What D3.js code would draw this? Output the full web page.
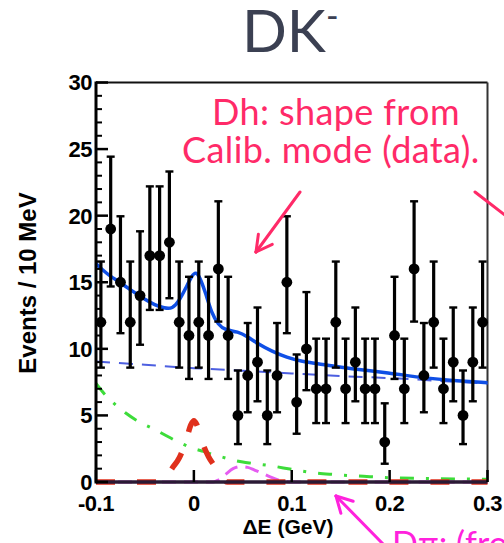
<!DOCTYPE html>
<html>
<head>
<meta charset="utf-8">
<script src="https://cdn.jsdelivr.net/npm/d3@7"></script>
<style>
  html, body { margin: 0; padding: 0; background: #fff; }
  svg { display: block; }
</style>
</head>
<body>
<svg id="chart" width="504" height="543"></svg>
<script>
// ---- Data: DK- candidates, 10 MeV bins of ΔE ----
const binCenters = d3.range(40).map(i => -0.095 + i * 0.01);
const counts = [12, 19, 15, 12, 14, 17, 17, 18, 12, 11,
                12, 11, 16, 11, 5, 8, 9, 5, 8, 15,
                6, 10, 7, 7, 12, 7, 9, 7, 7, 3,
                11, 7, 16, 8, 12, 7, 9, 5, 9, 12];

// Fit components sampled along ΔE: [ΔE (GeV), events / 10 MeV]
const totalFit = [[-0.1,16.4],[-0.09,15.7],[-0.08,15.2],[-0.07,14.7],[-0.06,14.2],[-0.05,13.7],
  [-0.04,13.3],[-0.03,13.05],[-0.022,13.0],[-0.015,13.6],[-0.008,14.6],[-0.002,15.5],[0.002,15.8],
  [0.006,15.4],[0.012,14.2],[0.018,12.7],[0.025,11.8],[0.032,11.4],[0.045,11.3],[0.055,10.9],
  [0.065,10.4],[0.08,9.8],[0.095,9.35],[0.11,9.05],[0.13,8.85],[0.16,8.5],[0.2,8.2],[0.23,7.85],
  [0.26,7.65],[0.3,7.45]];
const combinatorial = [[-0.1,9.05],[-0.05,8.8],[0,8.55],[0.05,8.35],[0.1,8.15],[0.15,7.95],
  [0.2,7.8],[0.25,7.6],[0.3,7.4]];
const bbBackground = [[-0.1,7.4],[-0.09,6.5],[-0.08,5.8],[-0.07,5.2],[-0.06,4.7],[-0.05,4.3],
  [-0.04,3.95],[-0.03,3.55],[-0.02,3.15],[-0.01,2.8],[0,2.5],[0.01,2.3],[0.02,2.05],[0.03,1.85],
  [0.04,1.65],[0.05,1.5],[0.06,1.4],[0.08,1.2],[0.1,0.95],[0.12,0.72],[0.14,0.58],[0.16,0.48],
  [0.18,0.4],[0.2,0.32],[0.25,0.25],[0.3,0.2]];
const peakingDh = [[-0.1,0],[-0.034,0],[-0.028,0.35],[-0.022,1.05],[-0.015,1.8],[-0.008,3.1],
  [-0.003,4.3],[0,4.6],[0.003,4.3],[0.008,3.1],[0.015,1.9],[0.022,1.1],[0.028,0.4],[0.034,0],[0.3,0]];
const dpiComponent = [[-0.1,0],[0.02,0],[0.025,0.15],[0.032,0.55],[0.04,1.0],[0.048,1.15],
  [0.055,1.1],[0.062,0.9],[0.07,0.65],[0.078,0.38],[0.086,0.15],[0.095,0.03],[0.1,0],[0.3,0]];

const xTicks = [-0.1, 0, 0.1, 0.2, 0.3];
const xTickLabels = ["-0.1", "0", "0.1", "0.2", "0.3"];
const yTicks = [0, 5, 10, 15, 20, 25, 30];
const yMinorTicks = d3.range(0, 31, 1);

// Poisson 68% interval (Garwood, Wilson–Hilferty form) for the error bars
function poissonInterval(n) {
  if (n === 0) return [0, 1.84];
  const lo = n * Math.pow(1 - 1 / (9 * n) - 1 / (3 * Math.sqrt(n)), 3);
  const m = n + 1;
  const hi = m * Math.pow(1 - 1 / (9 * m) + 1 / (3 * Math.sqrt(m)), 3);
  return [lo, hi];
}

// ---- Layout ----
const svg = d3.select("#chart");
svg.append("rect").attr("width", 504).attr("height", 543).attr("fill", "#fff");

const x = d3.scaleLinear().domain([-0.1, 0.3]).range([96, 487.5]);
const y = d3.scaleLinear().domain([0, 30]).range([482, 82.5]);
const axisFont = "'Liberation Sans', Arial, Helvetica, sans-serif";

// Frame
svg.append("line").attr("x1", x(-0.1)).attr("x2", x(0.3)).attr("y1", y(30)).attr("y2", y(30))
  .attr("stroke", "#111").attr("stroke-width", 2);
svg.append("line").attr("x1", x(0.3)).attr("x2", x(0.3)).attr("y1", y(30)).attr("y2", y(0))
  .attr("stroke", "#333").attr("stroke-width", 2);

// Fit components
const line = d3.line().x(d => x(d[0])).y(d => y(d[1])).curve(d3.curveMonotoneX);
const plot = svg.append("g");
plot.append("path").datum(combinatorial).attr("d", line).attr("fill", "none")
  .attr("stroke", "#4d5fe0").attr("stroke-width", 2).attr("stroke-dasharray", "14,9");
plot.append("path").datum(bbBackground).attr("d", line).attr("fill", "none")
  .attr("stroke", "#3ddc3a").attr("stroke-width", 3).attr("stroke-dasharray", "14,12,3,12");

// Axis lines (x axis under the dashed zero-level curves)
svg.append("line").attr("x1", x(-0.1)).attr("x2", x(0.3)).attr("y1", y(0)).attr("y2", y(0))
  .attr("stroke", "#2a1a35").attr("stroke-width", 3.5);
svg.append("line").attr("x1", x(-0.1)).attr("x2", x(-0.1)).attr("y1", y(30) - 1).attr("y2", y(0) + 1.5)
  .attr("stroke", "#000").attr("stroke-width", 3);

plot.append("path").datum(dpiComponent).attr("d", line).attr("fill", "none")
  .attr("stroke", "#e040ee").attr("stroke-width", 3).attr("stroke-dasharray", "14,8").attr("opacity", 0.85);
plot.append("path").datum(peakingDh).attr("d", line).attr("fill", "none")
  .attr("stroke", "#e0301c").attr("stroke-width", 5.5).attr("stroke-dasharray", "19,22");
plot.append("path").datum(totalFit).attr("d", line.curve(d3.curveBasis)).attr("fill", "none")
  .attr("stroke", "#0f4fe6").attr("stroke-width", 3.5);

// Y ticks
const yAxis = svg.append("g");
yAxis.selectAll("line.minor").data(yMinorTicks.filter(v => v % 5 !== 0)).join("line")
  .attr("x1", x(-0.1)).attr("x2", x(-0.1) + 6).attr("y1", d => y(d)).attr("y2", d => y(d))
  .attr("stroke", "#000").attr("stroke-width", 2);
yAxis.selectAll("line.major").data(yTicks).join("line")
  .attr("x1", x(-0.1)).attr("x2", x(-0.1) + 12).attr("y1", d => y(d)).attr("y2", d => y(d))
  .attr("stroke", "#000").attr("stroke-width", 2.5);
yAxis.selectAll("text").data(yTicks).join("text")
  .attr("x", 92).attr("y", d => y(d)).attr("dy", "0.36em")
  .attr("text-anchor", "end").attr("font-family", axisFont).attr("font-weight", "bold")
  .attr("font-size", 22).attr("letter-spacing", -0.5).attr("fill", "#000").text(d => d);

// X ticks
const xAxis = svg.append("g");
xAxis.selectAll("line").data(xTicks).join("line")
  .attr("x1", d => x(d)).attr("x2", d => x(d)).attr("y1", y(0)).attr("y2", y(0) - 12)
  .attr("stroke", "#000").attr("stroke-width", 2.5);
xAxis.selectAll("text").data(xTicks).join("text")
  .attr("x", d => x(d)).attr("y", 511).attr("text-anchor", "middle")
  .attr("font-family", axisFont).attr("font-weight", "bold").attr("font-size", 22)
  .attr("letter-spacing", -0.5).attr("fill", "#000").text((d, i) => xTickLabels[i]);

// Axis titles
svg.append("text").attr("x", 288).attr("y", 534).attr("text-anchor", "middle")
  .attr("font-family", axisFont).attr("font-weight", "bold").attr("font-size", 21)
  .attr("fill", "#000").text("ΔE (GeV)");
svg.append("text").attr("transform", "translate(36,283) rotate(-90)").attr("text-anchor", "middle")
  .attr("font-family", axisFont).attr("font-weight", "bold").attr("font-size", 24)
  .attr("fill", "#000").text("Events / 10 MeV");

// Data points with Poisson error bars
const pts = svg.append("g");
const data = binCenters.map((c, i) => ({ c, n: counts[i], iv: poissonInterval(counts[i]) }));
pts.selectAll("line.bar").data(data).join("line")
  .attr("x1", d => x(d.c)).attr("x2", d => x(d.c))
  .attr("y1", d => y(d.iv[0])).attr("y2", d => y(d.iv[1]))
  .attr("stroke", "#000").attr("stroke-width", 3.2);
pts.selectAll("line.capHi").data(data).join("line")
  .attr("x1", d => x(d.c) - 4).attr("x2", d => x(d.c) + 4)
  .attr("y1", d => y(d.iv[1])).attr("y2", d => y(d.iv[1]))
  .attr("stroke", "#000").attr("stroke-width", 2.4);
pts.selectAll("line.capLo").data(data).join("line")
  .attr("x1", d => x(d.c) - 4).attr("x2", d => x(d.c) + 4)
  .attr("y1", d => y(d.iv[0])).attr("y2", d => y(d.iv[0]))
  .attr("stroke", "#000").attr("stroke-width", 2.4);
pts.selectAll("circle").data(data).join("circle")
  .attr("cx", d => x(d.c)).attr("cy", d => y(d.n)).attr("r", 5.4).attr("fill", "#000");

// Title
const title = svg.append("text").attr("x", 242).attr("y", 52)
  .attr("font-family", "Lato, 'Open Sans', sans-serif").attr("font-size", 59)
  .attr("fill", "#3b4052");
title.append("tspan").text("DK");
title.append("tspan").attr("font-size", 34).attr("dy", -24).text("-");

// Annotations
const pink = "#ff2a68";
const annot = svg.append("g").attr("font-family", "Lato, 'Open Sans', sans-serif")
  .attr("font-size", 36).attr("letter-spacing", 0.4).attr("fill", pink);
annot.append("text").attr("x", 212).attr("y", 125).text("Dh: shape from");
annot.append("text").attr("x", 182).attr("y", 163).text("Calib. mode (data).");

function arrow(g, x1, y1, x2, y2, color, head) {
  g.append("line").attr("x1", x1).attr("y1", y1).attr("x2", x2).attr("y2", y2)
    .attr("stroke", color).attr("stroke-width", 3).attr("stroke-linecap", "round");
  if (head) {
    const a = Math.atan2(y2 - y1, x2 - x1), L = 18, s = 0.5;
    [a + Math.PI - s, a + Math.PI + s].forEach(b => {
      g.append("line").attr("x1", x2).attr("y1", y2)
        .attr("x2", x2 + L * Math.cos(b)).attr("y2", y2 + L * Math.sin(b))
        .attr("stroke", color).attr("stroke-width", 3).attr("stroke-linecap", "round");
    });
  }
}
const arrows = svg.append("g");
arrows.call(g => arrow(g, 300, 192, 256, 252, pink, true));
arrows.call(g => arrow(g, 475, 192, 506, 216, pink, false));
arrows.call(g => arrow(g, 384, 545, 336, 496, "#ff22dd", true));

svg.append("text").attr("x", 392).attr("y", 556)
  .attr("font-family", "Lato, 'Open Sans', sans-serif").attr("font-size", 34)
  .attr("fill", "#ff22dd").text("Dπ: (from");
</script>
</body>
</html>
